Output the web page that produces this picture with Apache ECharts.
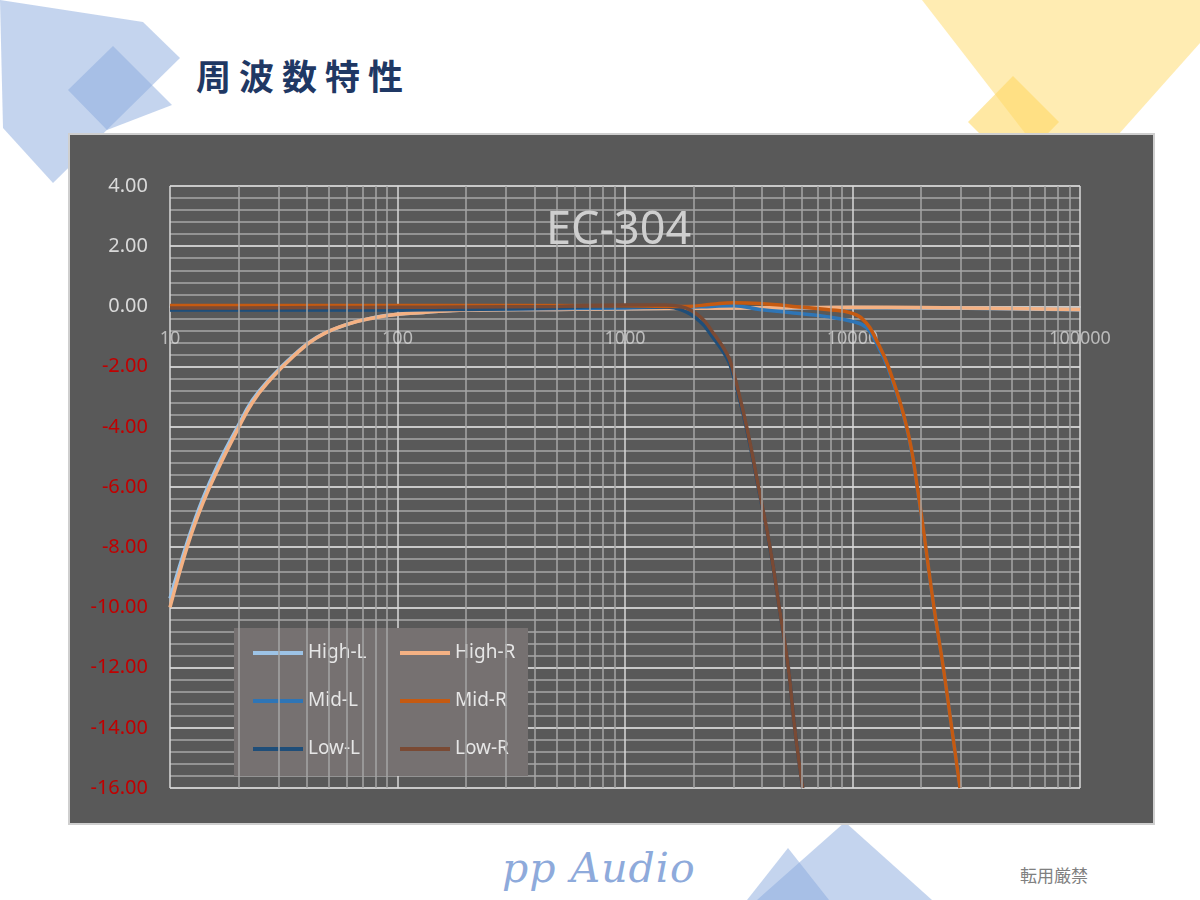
<!DOCTYPE html>
<html>
<head>
<meta charset="utf-8">
<script src="https://cdn.jsdelivr.net/npm/echarts@6/dist/echarts.min.js"></script>
<style>
  html, body { margin: 0; padding: 0; background: #ffffff; }
  #page { position: relative; width: 1200px; height: 900px; overflow: hidden; background: #ffffff; }
  #deco { position: absolute; left: 0; top: 0; }
  #panel { position: absolute; left: 68px; top: 133px; width: 1083px; height: 688px;
           background: #595959; border: 2px solid #cfcfcf; }
  #chart { position: absolute; left: 0; top: 0; width: 1200px; height: 900px; }
  #heading { position: absolute; left: 196px; top: 50px; font-family: "Noto Sans CJK JP"; font-weight: 600;
             font-size: 35px; letter-spacing: 8px; color: #1f3864; line-height: 50px; }
  #brand { position: absolute; left: 502px; top: 840px; font-family: "DejaVu Serif"; font-style: italic;
           font-size: 41px; letter-spacing: 1px; color: #8eaadb; line-height: 56px; }
  #note { position: absolute; left: 1020px; top: 863px; font-family: "Noto Sans CJK JP"; font-size: 17px;
          color: #808080; line-height: 24px; }
</style>
</head>
<body>
<div id="page">
  <svg id="deco" width="1200" height="900">
    <polygon points="0,0 143,22 180,58 53,183 3,128" fill="rgb(138,170,221)" fill-opacity="0.5"/>
    <polygon points="113,46 172,105 107,130 68,90" fill="rgb(138,170,221)" fill-opacity="0.5"/>
    <polygon points="922,0 1200,0 1200,43 1069,190" fill="rgb(255,217,102)" fill-opacity="0.5"/>
    <polygon points="1013,76 1059,122 1014,168 968,122" fill="rgb(255,217,102)" fill-opacity="0.6"/>
    <polygon points="845,822 757,900 932,900" fill="rgb(138,170,221)" fill-opacity="0.5"/>
    <polygon points="788,848 747,900 829,900" fill="rgb(138,170,221)" fill-opacity="0.5"/>
  </svg>
  <div id="panel"></div>
  <div id="heading">周波数特性</div>
  <div id="brand">pp Audio</div>
  <div id="note">転用厳禁</div>
  <div id="chart"></div>
</div>
<script>
// ---- data (frequency in Hz, level in dB) ----
const highFreq = [10, 12, 14, 16.5, 19.5, 23, 27.5, 35, 44, 60, 80, 100, 130, 200, 500, 1000, 2000, 5000, 10000, 20000, 50000, 100000];
const highL    = [-9.7, -7.75, -6.35, -5.15, -4.1, -3.12, -2.4, -1.62, -1.03, -0.6, -0.36, -0.26, -0.2, -0.12, -0.1, -0.08, -0.06, -0.05, -0.04, -0.05, -0.08, -0.11];
const highR    = [-10.0, -7.9, -6.5, -5.3, -4.2, -3.2, -2.45, -1.65, -1.05, -0.6, -0.37, -0.26, -0.2, -0.12, -0.1, -0.08, -0.06, -0.04, -0.03, -0.04, -0.07, -0.1];

const midFreq  = [10, 100, 1000, 1500, 1870, 2400, 3000, 3900, 5500, 7700, 10000, 11500, 12700, 14370, 17310, 19270, 22810, 25070, 27290, 29690];
const midL     = [-0.1, -0.1, -0.05, -0.03, -0.03, 0.0, 0.02, -0.1, -0.22, -0.34, -0.5, -0.7, -1.2, -2.08, -4.05, -6.05, -10.02, -12.0, -14.0, -16.0];
const midR     = [0.03, 0.03, 0.02, 0.0, 0.0, 0.07, 0.12, 0.1, 0.0, -0.1, -0.23, -0.55, -1.1, -2.0, -4.0, -6.0, -10.0, -12.0, -14.0, -16.0];

const lowFreq  = [10, 20, 50, 100, 200, 500, 1000, 1500, 1745, 2136, 2445, 2800, 2953, 3426, 3862, 4339, 4767, 5222, 5570, 6040];
const lowL     = [-0.12, -0.12, -0.12, -0.12, -0.1, -0.05, 0.0, -0.02, -0.1, -0.5, -1.05, -1.7, -2.12, -4.08, -6.05, -8.03, -10.02, -12.0, -14.0, -16.0];
const lowR     = [-0.05, -0.05, -0.04, -0.03, -0.02, 0.0, 0.05, 0.05, 0.0, -0.34, -0.89, -1.56, -2.0, -4.0, -6.0, -8.0, -10.0, -12.0, -14.0, -16.0];

const leftLegend   = ['High-L', 'Mid-L', 'Low-L'];
const rightLegend  = ['High-R', 'Mid-R', 'Low-R'];
const chartTitle   = 'EC-304';
const yMin = -16, yMax = 4, yStep = 2;

// minor vertical grid values (2..9 x 10^k) for the log axis
const minorGridFreqs = [];
for (let k = 1; k <= 4; k++) {
  for (let m = 2; m <= 9; m++) minorGridFreqs.push(m * Math.pow(10, k));
}

function zip(xs, ys) { return xs.map((x, i) => [x, ys[i]]); }

const colors = {
  'High-L': '#9dc3e6', 'High-R': '#f4b183',
  'Mid-L': '#2e75b6', 'Mid-R': '#c55a11',
  'Low-L': '#1f4e79', 'Low-R': '#7a4a34'
};

function lineSeries(name, xs, ys) {
  return {
    name: name, type: 'line', data: zip(xs, ys),
    showSymbol: false, symbol: 'none', smooth: 0.45,
    lineStyle: { width: 3.5, color: colors[name] },
    itemStyle: { color: colors[name] },
    z: 2, clip: true
  };
}

const gridTop = 186, gridBottom = 112, gridHeight = 900 - gridTop - gridBottom;
// place the x axis on the 0 dB line
const xAxisOffset = -gridHeight * (0 - yMin) / (yMax - yMin);

const chart = echarts.init(document.getElementById('chart'), null, { renderer: 'canvas' });

const legendCommon = {
  orient: 'vertical', top: 641, itemWidth: 50, itemHeight: 4, itemGap: 24, icon: 'rect', padding: 0,
  selectedMode: false,
  textStyle: { color: '#e6e6e6', fontSize: 19, lineHeight: 24, fontFamily: 'Noto Sans' }
};

chart.setOption({
  animation: false,
  backgroundColor: 'transparent',
  title: {
    text: chartTitle, left: 541, top: 204,
    textStyle: { color: '#cfcfcf', fontSize: 45, fontWeight: 'normal', fontFamily: 'Noto Sans' }
  },
  legend: [
    Object.assign({ data: leftLegend, left: 253 }, legendCommon),
    Object.assign({ data: rightLegend, left: 400 }, legendCommon)
  ],
  graphic: [{
    type: 'rect', shape: { x: 234, y: 628, width: 294, height: 148 },
    style: { fill: '#767171' }, z: 3, silent: true
  }],
  grid: { left: 170, right: 120, top: gridTop, bottom: gridBottom, containLabel: false },
  xAxis: {
    type: 'log', logBase: 10, min: 10, max: 100000,
    position: 'bottom', offset: xAxisOffset,
    axisLine: { show: true, onZero: false, lineStyle: { color: '#c8c8c8', width: 2 } },
    axisTick: { show: false },
    axisLabel: {
      margin: 23, fontSize: 18, fontFamily: 'Noto Sans', color: 'rgba(220,220,220,0.75)',
      showMinLabel: true, showMaxLabel: true,
      formatter: v => String(Math.round(v))
    },
    splitLine: { show: true, lineStyle: { color: '#d9d9d9', width: 1.5 } }
  },
  yAxis: {
    type: 'value', min: yMin, max: yMax, interval: yStep,
    axisLine: { show: false, onZero: false },
    axisTick: { show: false },
    axisLabel: {
      margin: 22, fontSize: 20, fontFamily: 'Noto Sans',
      formatter: v => v.toFixed(2),
      color: v => (Number(v) < 0 ? '#c00000' : '#d9d9d9')
    },
    splitLine: { show: true, lineStyle: { color: '#c8c8c8', width: 2 } },
    minorTick: { show: false, splitNumber: 5 },
    minorSplitLine: { show: true, lineStyle: { color: '#a6a6a6', width: 1.5 } }
  },
  series: [
    {
      name: 'minor-grid', type: 'line', data: [], silent: true, z: 1,
      markLine: {
        silent: true, symbol: ['none', 'none'], label: { show: false },
        lineStyle: { color: '#a6a6a6', width: 1.5, type: 'solid' },
        data: minorGridFreqs.map(f => ({ xAxis: f }))
      }
    },
    lineSeries('High-L', highFreq, highL),
    lineSeries('High-R', highFreq, highR),
    lineSeries('Mid-L', midFreq, midL),
    lineSeries('Low-L', lowFreq, lowL),
    lineSeries('Mid-R', midFreq, midR),
    lineSeries('Low-R', lowFreq, lowR)
  ]
});
</script>
</body>
</html>
